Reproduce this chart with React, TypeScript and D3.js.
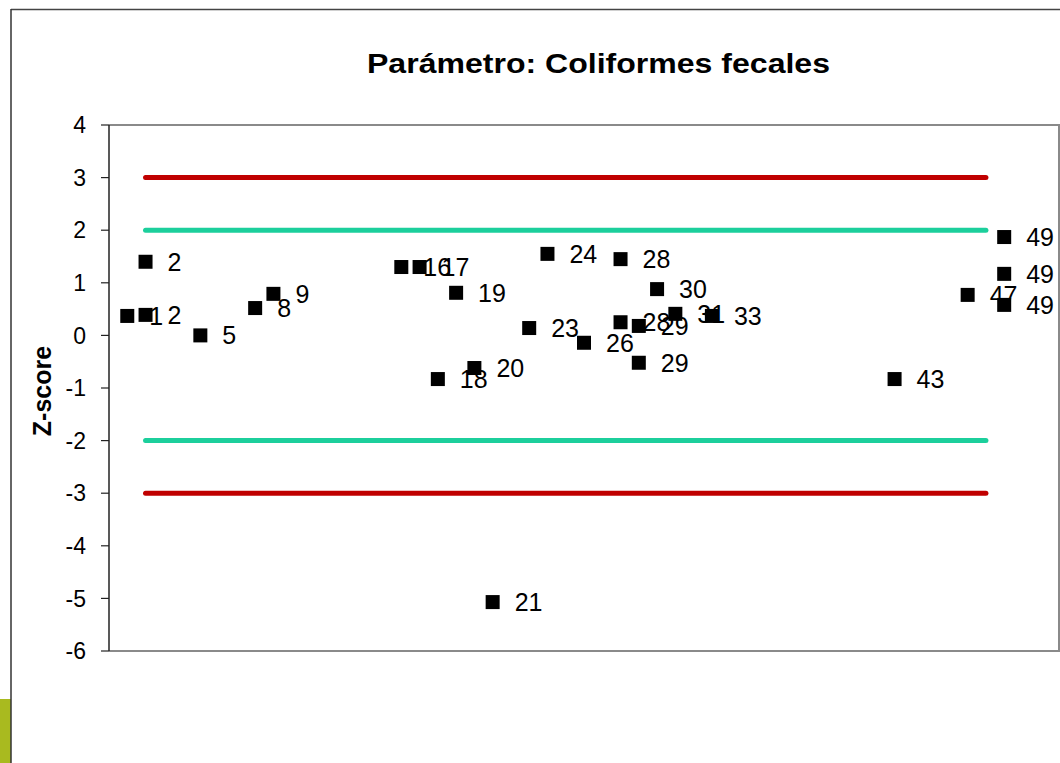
import * as d3 from 'd3';

// lab numbers and z-scores
const labIds = [1, 2, 2, 5, 8, 9, 16, 17, 18, 19, 20, 21, 23, 24, 26, 28, 28, 29, 29, 30, 31, 33, 43, 47, 49, 49, 49];
const zScores = [0.37, 1.4, 0.39, 0.0, 0.52, 0.79, 1.3, 1.3, -0.83, 0.81, -0.62, -5.07, 0.14, 1.55, -0.14, 1.45, 0.25, 0.18, -0.52, 0.88, 0.41, 0.37, -0.83, 0.77, 1.87, 1.17, 0.58];
const yTicks = [4, 3, 2, 1, 0, -1, -2, -3, -4, -5, -6];
const limitLines = [
  { value: 3, color: '#c00000' },
  { value: -3, color: '#c00000' },
  { value: 2, color: '#1ccf9c' },
  { value: -2, color: '#1ccf9c' },
];
const limitStart = 2;
const limitEnd = 48;

const W = 1060;
const H = 763;
const plot = { left: 109, right: 1059, top: 125, bottom: 651 };
const font = 'Arial, "Liberation Sans", Helvetica, sans-serif';

export default function App() {
  const x = d3.scaleLinear().domain([0, 52]).range([plot.left, plot.right]);
  const y = d3.scaleLinear().domain([-6, 4]).range([plot.bottom, plot.top]);
  const points = labIds.map((id, i) => ({ id, z: zScores[i] }));
  const sq = 14;

  return (
    <svg width={W} height={H} style={{ position: 'absolute', left: 0, top: 0, background: '#fff' }} fontFamily={font}>
      {/* outer slide frame */}
      <rect x={0} y={699} width={11} height={H - 699} fill="#a9ba1f" />
      <line x1={11} x2={W} y1={9.5} y2={9.5} stroke="#444" strokeWidth={1.5} />
      <line x1={11} x2={11} y1={9} y2={H} stroke="#333" strokeWidth={1.5} />

      <text
        x={367}
        y={73}
        fontSize={27}
        fontWeight="bold"
        fill="#000"
        textLength={463}
        lengthAdjust="spacingAndGlyphs"
      >
        Parámetro: Coliformes fecales
      </text>

      {/* plot box */}
      <path
        d={`M${plot.left},${plot.top}H${plot.right}V${plot.bottom}H${plot.left}`}
        fill="none"
        stroke="#8a8a8a"
        strokeWidth={2}
      />
      <line x1={plot.left} x2={plot.left} y1={plot.top} y2={plot.bottom} stroke="#222" strokeWidth={1.5} />

      {/* y axis */}
      {yTicks.map(t => (
        <g key={t}>
          <line x1={plot.left - 8} x2={plot.left} y1={y(t)} y2={y(t)} stroke="#222" strokeWidth={1.2} />
          <text x={86} y={y(t)} dy="0.36em" textAnchor="end" fontSize={23} fill="#000">
            {t}
          </text>
        </g>
      ))}
      <text
        transform={`translate(51,${(plot.top + plot.bottom) / 2 + 3}) rotate(-90)`}
        textAnchor="middle"
        fontSize={25}
        fontWeight="bold"
        fill="#000"
      >
        Z-score
      </text>

      {/* limit lines */}
      {limitLines.map((l, i) => (
        <line
          key={i}
          x1={x(limitStart)}
          x2={x(limitEnd)}
          y1={y(l.value)}
          y2={y(l.value)}
          stroke={l.color}
          strokeWidth={5}
          strokeLinecap="round"
        />
      ))}

      {/* labels */}
      {points.map((p, i) => (
        <text key={'l' + i} x={x(p.id) + 22} y={y(p.z)} dy="0.36em" fontSize={25} fill="#000">
          {p.id}
        </text>
      ))}

      {/* markers */}
      {points.map((p, i) => (
        <rect key={'p' + i} x={x(p.id) - sq / 2} y={y(p.z) - sq / 2} width={sq} height={sq} fill="#000" />
      ))}
    </svg>
  );
}
